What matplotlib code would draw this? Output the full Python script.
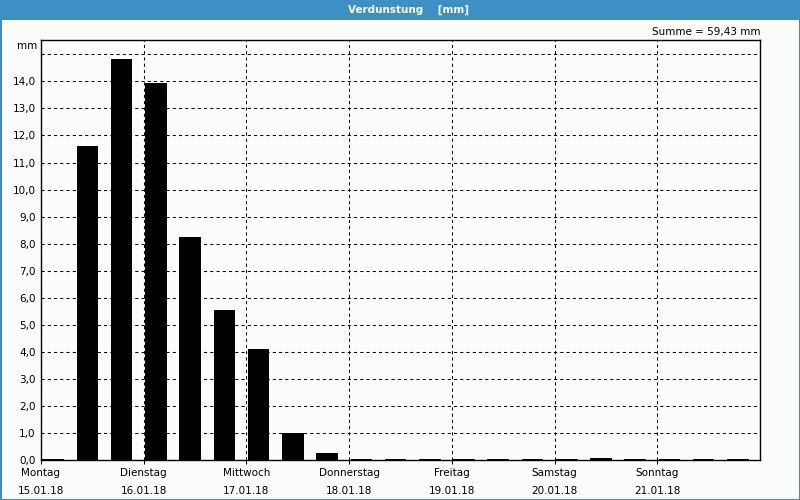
import matplotlib
matplotlib.use("Agg")
import matplotlib.pyplot as plt
from matplotlib.patches import Rectangle

# ---- data ----
days = ["Montag", "Dienstag", "Mittwoch", "Donnerstag", "Freitag", "Samstag", "Sonntag"]
dates = ["15.01.18", "16.01.18", "17.01.18", "18.01.18", "19.01.18", "20.01.18", "21.01.18"]
values = [0.03, 11.62, 14.82, 13.93, 8.23, 5.56, 4.09,
          1.01, 0.27, 0.03, 0.03, 0.03, 0.03, 0.03,
          0.03, 0.03, 0.07, 0.03, 0.03, 0.03, 0.03]
y_ticks = list(range(0, 16))
y_labels = [f"{v:.1f}".replace('.', ',') for v in range(0, 15)] + [""]
title = "Verdunstung    [mm]"
summe_text = "Summe = 59,43 mm"
unit = "mm"

W, H = 800, 500
bg = "#FAFDFB"
blue = "#3D8FC4"

plt.rcParams['font.family'] = ['DejaVu Sans']
fig = plt.figure(figsize=(W / 100, H / 100), dpi=100, facecolor=bg)

# title band and border
fig.patches.append(Rectangle((0, 1 - 20 / H), 1, 20 / H, transform=fig.transFigure,
                             facecolor=blue, edgecolor='none', zorder=0))
fig.patches.append(Rectangle((0.5 / W, 0.5 / H), 1 - 1 / W, 1 - 1 / H, transform=fig.transFigure,
                             facecolor='none', edgecolor=blue, linewidth=1.5, zorder=5))
fig.text(408 / W, 1 - 10 / H, title, color='white', fontweight='bold', fontsize=7.5,
         ha='center', va='center')
fig.text(761 / W, 1 - 32 / H, summe_text, ha='right', va='center', fontsize=7.5)
fig.text(37 / W, 1 - 46 / H, unit, ha='right', va='center', fontsize=7.5)

ax = fig.add_axes([41 / W, 40 / H, 719 / W, 420 / H], facecolor=bg)
n = len(values)
xs = [i + 0.04 for i in range(n)]
ax.bar(xs, values, width=0.63, align='edge', color='#000000', zorder=3)

ax.set_xlim(0, n)
ax.set_ylim(0, 15.53)

ax.set_yticks(y_ticks)
ax.set_yticklabels(y_labels, fontsize=7.5)

ax.set_xticks([3 * i for i in range(len(days))])
ax.set_xticklabels([f"{d}\n{dt}" for d, dt in zip(days, dates)], fontsize=7.5, linespacing=1.9)

ax.tick_params(axis='y', length=0, pad=4)
ax.tick_params(axis='x', length=3, width=0.75, pad=3)

ax.grid(True, color='black', linestyle=(0, (3, 3)), linewidth=0.75)
ax.set_axisbelow(True)
for s in ax.spines.values():
    s.set_linewidth(1.0)
    s.set_color('black')

fig.savefig("out.png", dpi=100, facecolor=bg)
